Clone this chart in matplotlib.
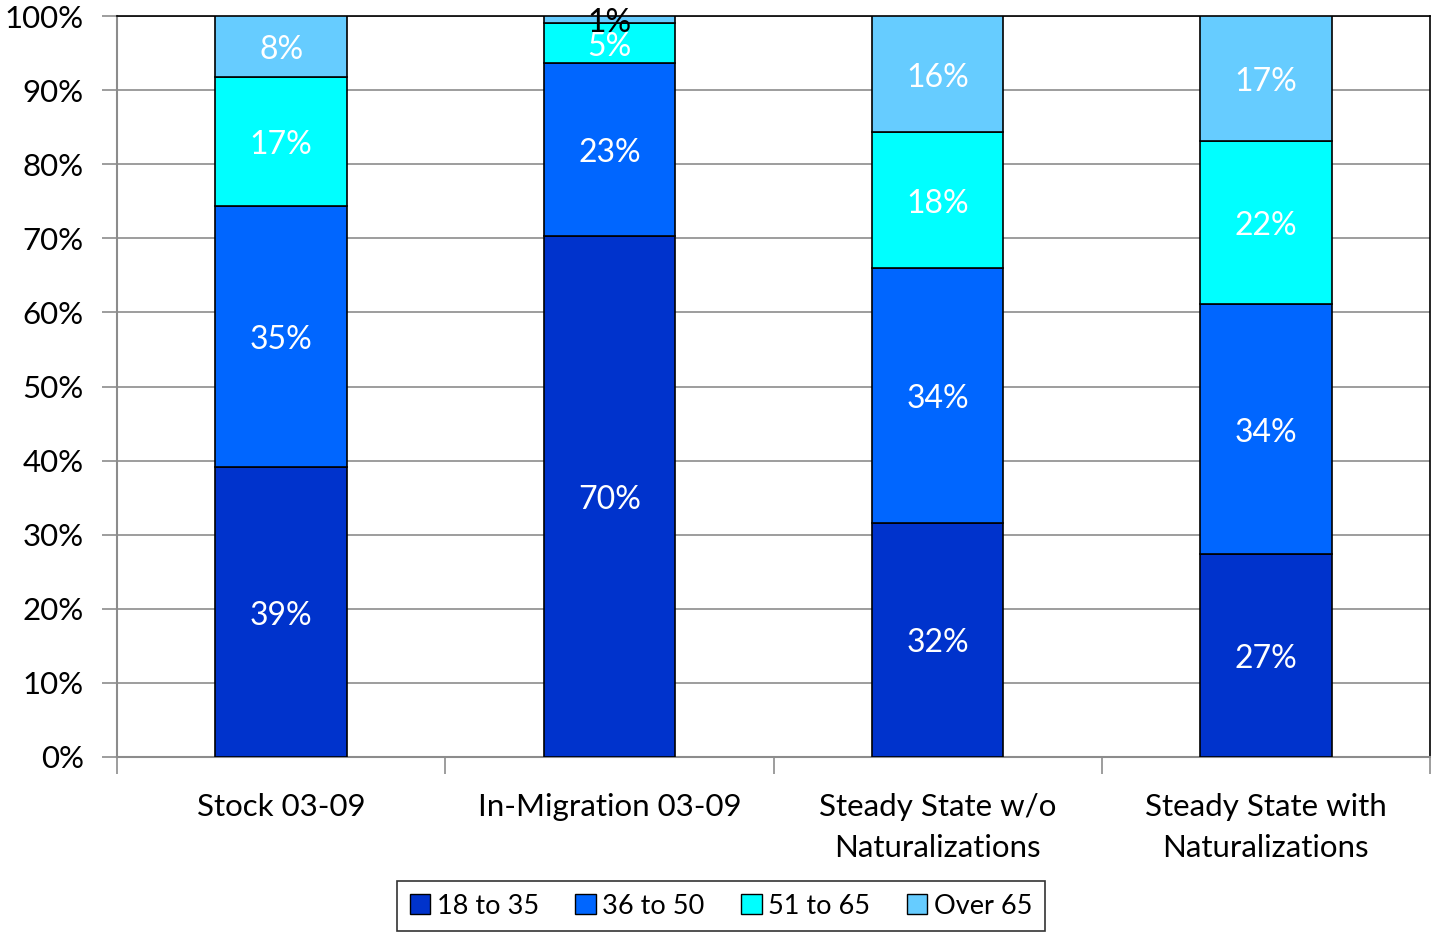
import matplotlib
matplotlib.use("Agg")
import matplotlib.pyplot as plt
import numpy as np

plt.rcParams['font.family'] = ['Lato', 'DejaVu Sans']

categories = ["Stock 03-09", "In-Migration 03-09",
              "Steady State w/o\nNaturalizations", "Steady State with\nNaturalizations"]
age_groups = ["18 to 35", "36 to 50", "51 to 65", "Over 65"]
age_18_35 = [39.1, 70.3, 31.6, 27.4]
age_36_50 = [35.3, 23.4, 34.4, 33.7]
age_51_65 = [17.4, 5.3, 18.3, 22.0]
age_over_65 = [8.2, 1.0, 15.7, 16.9]
colors = ["#0033CC", "#0066FF", "#00FFFF", "#66CCFF"]
y_ticks = [0, 10, 20, 30, 40, 50, 60, 70, 80, 90, 100]

series = [age_18_35, age_36_50, age_51_65, age_over_65]

fig = plt.figure(figsize=(14.31, 9.32), dpi=100)
ax = fig.add_axes([117/1431, 1 - 757/932, (1430-117)/1431, (757-16)/932])

x = np.arange(len(categories))
bottom = np.zeros(len(categories))
for name, vals, col in zip(age_groups, series, colors):
    vals = np.array(vals)
    ax.bar(x, vals, width=0.4, bottom=bottom, color=col,
           edgecolor="black", linewidth=1.2, label=name, zorder=3)
    for xi, b, v in zip(x, bottom, vals):
        txt_color = "black" if v < 2 else "white"
        ax.annotate(f"{v:.0f}%", (xi, b + v / 2), xytext=(0, -2.5),
                    textcoords="offset points", ha="center", va="center",
                    color=txt_color, fontsize=23, zorder=4)
    bottom += vals

ax.set_xlim(-0.5, len(categories) - 0.5)
ax.set_ylim(0, 100)
ax.set_yticks(y_ticks)
ax.set_yticklabels([f"{t}%" for t in y_ticks], fontsize=22.5)
ax.yaxis.grid(True, color="#8c8c8c", linewidth=1.2, zorder=0)
ax.tick_params(axis="y", length=11, width=1.2, color="#8c8c8c", pad=13)

# category labels centered under bars, tick marks at category boundaries
ax.set_xticks(np.arange(len(categories) + 1) - 0.5)
ax.set_xticklabels([])
ax.tick_params(axis="x", length=12, width=1.2, color="#8c8c8c")
for xi, c in zip(x, categories):
    ax.text(xi, -4.8, c, ha="center", va="top", fontsize=22.5,
            linespacing=1.6, transform=ax.transData)

for side in ["left", "bottom"]:
    ax.spines[side].set_color("#8c8c8c")
    ax.spines[side].set_linewidth(1.5)
for side in ["top", "right"]:
    ax.spines[side].set_color("black")
    ax.spines[side].set_linewidth(1.2)

leg = fig.legend(loc="center", bbox_to_anchor=(721/1431, 1 - 906/932), ncol=4,
                 fontsize=19.5, frameon=True, fancybox=False, edgecolor="black",
                 handlelength=0.75, handleheight=0.75, handletextpad=0.25,
                 columnspacing=1.35, borderpad=0.45)
leg.get_frame().set_linewidth(1.2)
for h in leg.legend_handles:
    h.set_linewidth(1.0)

fig.savefig("out.png", dpi=100)
